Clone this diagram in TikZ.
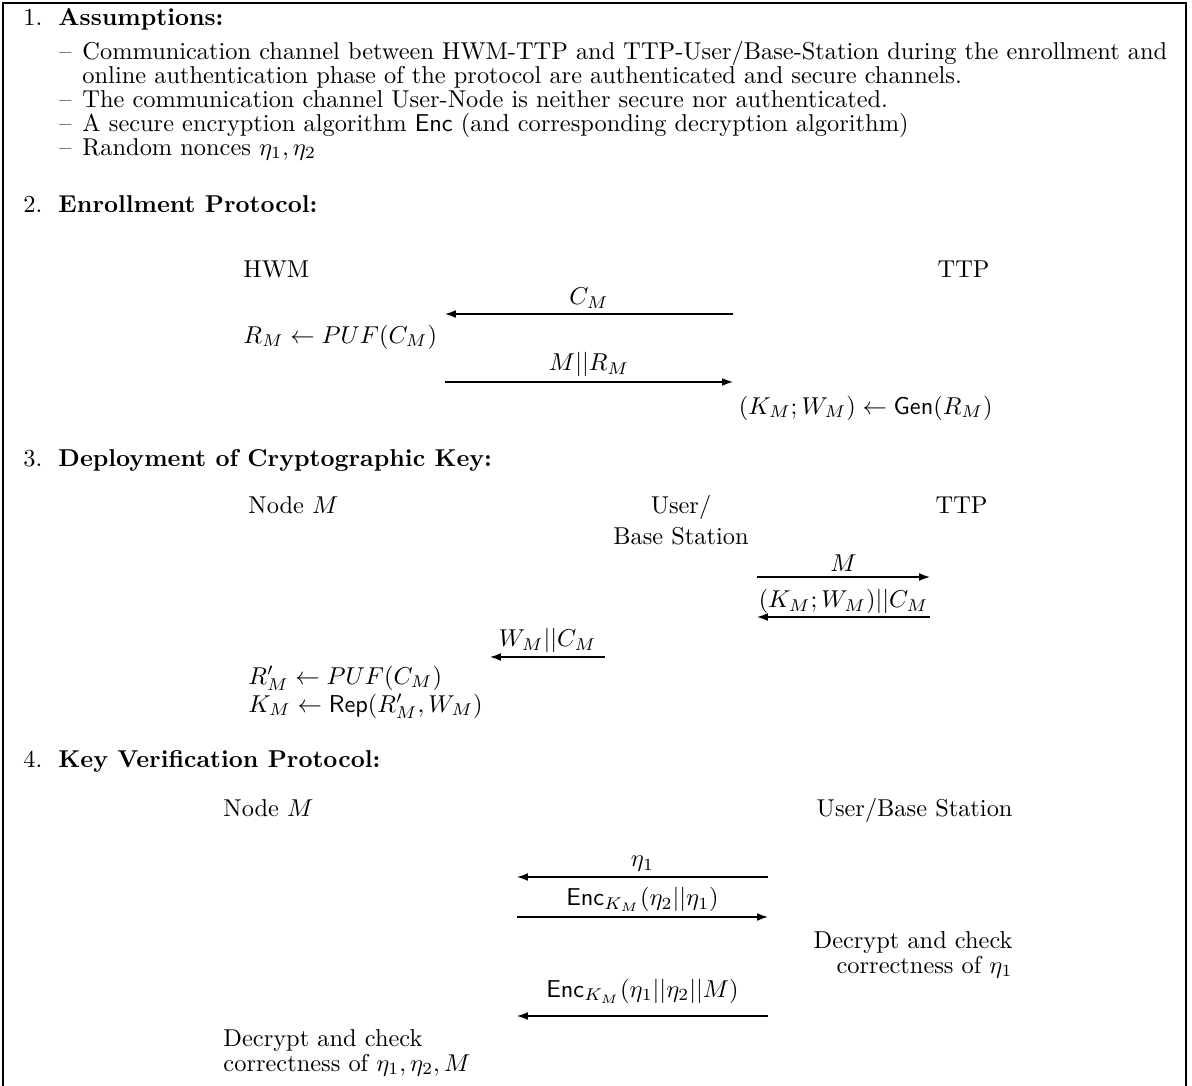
\documentclass[tikz,border=0pt]{standalone}
\usetikzlibrary{arrows.meta}
\begin{document}
\begin{tikzpicture}[x=0.41pt,y=-0.41pt,
  txt/.style={inner sep=0pt, anchor=base west},
  txtr/.style={inner sep=0pt, anchor=base east},
  txtc/.style={inner sep=0pt, anchor=base},
  msg/.style={line width=0.5pt, -{Latex[length=4.5pt,width=3.2pt]}},
  lbl/.style={midway, above, inner sep=2pt},
  framestyle/.style={line width=0.6pt}]
\useasboundingbox (0,0) rectangle (1192,1086);
% frame (open at the bottom)
\coordinate (fbl) at (3,1086);
\coordinate (ftl) at (3,3);
\coordinate (ftr) at (1186,3);
\coordinate (fbr) at (1186,1086);
\draw[framestyle] (fbl) -- (ftl) -- (ftr) -- (fbr);

% 1. Assumptions
\node[txt] (n1) at (23,26) {1.};
\node[txt] (h1) at (58,26) {\textbf{Assumptions:}};
\node[txt] (d1) at (59,59) {\textendash};
\node[txt] (a1) at (82,59) {Communication channel between HWM-TTP and TTP-User/Base-Station during the enrollment and};
\node[txt] (a1b) at (82,83) {online authentication phase of the protocol are authenticated and secure channels.};
\node[txt] (d2) at (59,107) {\textendash};
\node[txt] (a2) at (82,107) {The communication channel User-Node is neither secure nor authenticated.};
\node[txt] (d3) at (59,131) {\textendash};
\node[txt] (a3) at (82,131) {A secure encryption algorithm $\mathsf{Enc}$ (and corresponding decryption algorithm)};
\node[txt] (d4) at (59,155) {\textendash};
\node[txt] (a4) at (82,155) {Random nonces $\eta_1,\eta_2$};

% 2. Enrollment Protocol
\node[txt] (n2) at (23,212) {2.};
\node[txt] (h2) at (58,212) {\textbf{Enrollment Protocol:}};
\node[txt] (hwm) at (243,277) {HWM};
\node[txtr] (ttp2) at (990,277) {TTP};
\coordinate (e1r) at (733,314);
\coordinate (e1l) at (445,314);
\draw[msg] (e1r) -- node[lbl] (l1) {$C_M$} (e1l);
\node[txt] (puf1) at (243,343) {$R_M \leftarrow PUF(C_M)$};
\coordinate (e2l) at (445,382);
\coordinate (e2r) at (733,382);
\draw[msg] (e2l) -- node[lbl] (l2) {$M||R_M$} (e2r);
\node[txtr] (gen) at (993,414) {$(K_M;W_M) \leftarrow \mathsf{Gen}(R_M)$};

% 3. Deployment of Cryptographic Key
\node[txt] (n3) at (23,466) {3.};
\node[txt] (h3) at (58,466) {\textbf{Deployment of Cryptographic Key:}};
\node[txt] (node3) at (248,513) {Node $M$};
\node[txtc] (user3) at (681,513) {User/};
\node[txtc] (base3) at (681,544) {Base Station};
\node[txtr] (ttp3) at (988,513) {TTP};
\coordinate (e3l) at (757,577);
\coordinate (e3r) at (930,577);
\draw[msg] (e3l) -- node[lbl] (l3) {$M$} (e3r);
\coordinate (e4r) at (930,617);
\coordinate (e4l) at (757,617);
\draw[msg] (e4r) -- node[lbl, inner sep=1pt] (l4) {$(K_M;W_M)||C_M$} (e4l);
\coordinate (e5r) at (605,657);
\coordinate (e5l) at (490,657);
\draw[msg] (e5r) -- node[lbl, inner sep=1.5pt] (l5) {$W_M||C_M$} (e5l);
\node[txt] (puf3) at (248,684) {$R'_M \leftarrow PUF(C_M)$};
\node[txt] (rep3) at (248,712) {$K_M \leftarrow \mathsf{Rep}(R'_M,W_M)$};

% 4. Key Verification Protocol
\node[txt] (n4) at (23,767) {4.};
\node[txt] (h4) at (58,767) {\textbf{Key Verification Protocol:}};
\node[txt] (node4) at (223,816) {Node $M$};
\node[txtr] (user4) at (1013,816) {User/Base Station};
\coordinate (e6r) at (768,877);
\coordinate (e6l) at (517,877);
\draw[msg] (e6r) -- node[lbl] (l6) {$\eta_1$} (e6l);
\coordinate (e7l) at (517,917);
\coordinate (e7r) at (768,917);
\draw[msg] (e7l) -- node[lbl] (l7) {$\mathsf{Enc}_{K_M}(\eta_2||\eta_1)$} (e7r);
\node[txtr] (dec1) at (1013,948) {Decrypt and check};
\node[txtr] (cor1) at (1013,973) {correctness of $\eta_1$};
\coordinate (e8r) at (768,1016);
\coordinate (e8l) at (517,1016);
\draw[msg] (e8r) -- node[lbl, inner sep=5pt] (l8) {$\mathsf{Enc}_{K_M}(\eta_1||\eta_2||M)$} (e8l);
\node[txt] (dec2) at (223,1046) {Decrypt and check};
\node[txt] (cor2) at (223,1071) {correctness of $\eta_1,\eta_2,M$};
\end{tikzpicture}
\end{document}
